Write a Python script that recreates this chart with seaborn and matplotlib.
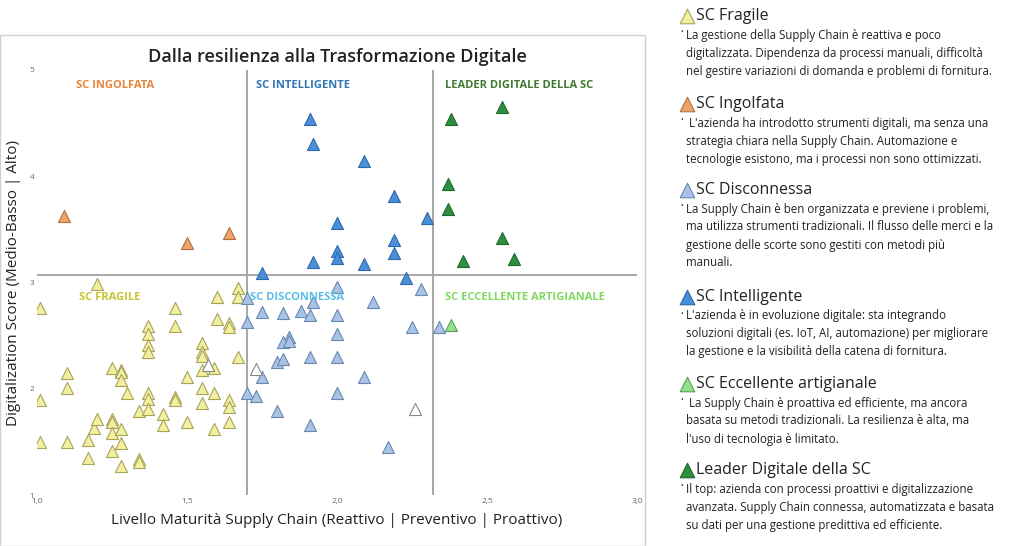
import matplotlib
matplotlib.use("Agg")
import matplotlib.pyplot as plt
import seaborn as sns
import pandas as pd
from matplotlib.patches import Rectangle

categories = ["SC Fragile", "SC Ingolfata", "SC Disconnessa", "SC Intelligente",
              "SC Eccellente artigianale", "Leader Digitale della SC", "Non classificato"]

fragile_x = [1.01, 1.20, 1.10, 1.10, 1.01, 1.01, 1.10, 1.17, 1.17, 1.19, 1.20, 1.25, 1.25, 1.25, 1.25, 1.25,
             1.28, 1.28, 1.28, 1.28, 1.28, 1.28, 1.30, 1.34, 1.34, 1.34, 1.37, 1.37, 1.37, 1.37, 1.37, 1.37,
             1.37, 1.42, 1.42, 1.46, 1.46, 1.46, 1.46, 1.50, 1.50, 1.55, 1.55, 1.55, 1.55, 1.55, 1.55, 1.59,
             1.59, 1.59, 1.60, 1.60, 1.64, 1.64, 1.64, 1.64, 1.64, 1.67, 1.67, 1.67]
fragile_y = [2.76, 2.99, 2.15, 2.01, 1.89, 1.50, 1.50, 1.52, 1.35, 1.63, 1.72, 2.20, 1.72, 1.69, 1.58, 1.41,
             2.18, 2.16, 2.08, 1.62, 1.49, 1.27, 1.96, 1.79, 1.34, 1.31, 2.59, 2.52, 2.41, 2.35, 1.96, 1.90,
             1.81, 1.76, 1.66, 2.76, 2.59, 1.92, 1.89, 2.11, 1.69, 2.43, 2.35, 2.31, 2.18, 2.01, 1.87, 2.20,
             1.96, 1.62, 2.86, 2.66, 2.62, 2.58, 1.89, 1.83, 1.69, 2.95, 2.86, 2.30]
ingolfata_x = [1.09, 1.50, 1.64]
ingolfata_y = [3.63, 3.37, 3.47]
disconnessa_x = [2.00, 1.70, 1.92, 2.12, 2.28, 1.75, 1.82, 1.88, 1.91, 2.00, 1.70, 2.00, 2.25, 2.34, 1.84,
                 1.82, 1.84, 1.91, 2.00, 1.80, 1.82, 1.75, 2.09, 1.70, 1.73, 2.00, 1.80, 1.91, 2.17]
disconnessa_y = [2.96, 2.85, 2.82, 2.82, 2.94, 2.72, 2.71, 2.73, 2.69, 2.69, 2.63, 2.52, 2.58, 2.58, 2.49,
                 2.44, 2.45, 2.30, 2.30, 2.25, 2.28, 2.11, 2.11, 1.96, 1.93, 1.96, 1.79, 1.66, 1.45]
intelligente_x = [1.91, 1.92, 2.09, 2.19, 2.00, 2.30, 2.19, 2.19, 2.00, 2.00, 1.92, 2.09, 1.75, 2.23]
intelligente_y = [4.54, 4.30, 4.14, 3.81, 3.56, 3.61, 3.40, 3.28, 3.30, 3.23, 3.19, 3.17, 3.09, 3.04]
eccellente_x = [2.38]
eccellente_y = [2.60]
leader_x = [2.55, 2.38, 2.37, 2.37, 2.55, 2.42, 2.59]
leader_y = [4.65, 4.54, 3.93, 3.69, 3.42, 3.20, 3.22]
altro_x = [1.57, 1.73, 2.26]
altro_y = [2.22, 2.19, 1.81]

xs = [fragile_x, ingolfata_x, disconnessa_x, intelligente_x, eccellente_x, leader_x, altro_x]
ys = [fragile_y, ingolfata_y, disconnessa_y, intelligente_y, eccellente_y, leader_y, altro_y]
rows = []
for c, xx, yy in zip(categories, xs, ys):
    for a, b in zip(xx, yy):
        rows.append({"x": a, "y": b, "cat": c})
df = pd.DataFrame(rows)

fills = {"SC Fragile": "#f3efa0", "SC Ingolfata": "#eea46a", "SC Disconnessa": "#a9c3e6",
         "SC Intelligente": "#4a8fdc", "SC Eccellente artigianale": "#93e08c",
         "Leader Digitale della SC": "#2e8f40", "Non classificato": "#ffffff"}
edges = {"SC Fragile": "#a8a45a", "SC Ingolfata": "#b07040", "SC Disconnessa": "#6a88b0",
         "SC Intelligente": "#2f6aa8", "SC Eccellente artigianale": "#5aa058",
         "Leader Digitale della SC": "#1f6a2c", "Non classificato": "#888888"}

sns.set_theme(style="white")
plt.rcParams['font.family'] = ['Open Sans', 'DejaVu Sans']
fig = plt.figure(figsize=(10.24, 5.46), dpi=100)
fig.patches.append(Rectangle((0.0, 0.0), 645/1024, 1-35/546, transform=fig.transFigure,
                             facecolor="none", edgecolor="#d0d0d0", lw=1.0))
ax = fig.add_axes([37/1024, 1-495/546, 600/1024, 425/546])
for c in categories:
    sub = df[df["cat"] == c]
    sns.scatterplot(data=sub, x="x", y="y", marker="^", s=75, color=fills[c],
                    edgecolor=edges[c], linewidth=0.8, ax=ax, legend=False, zorder=3)
ax.set_xlim(1.0, 3.0)
ax.set_ylim(1.0, 5.0)
ax.axvline(1.7, color="#a0a0a0", lw=1.3, zorder=1)
ax.axvline(2.32, color="#a0a0a0", lw=1.3, zorder=1)
ax.axhline(3.07, color="#a0a0a0", lw=1.3, zorder=1)
for s in ax.spines.values():
    s.set_visible(False)
ax.set_xticks([1.0, 1.5, 2.0, 2.5, 3.0])
ax.set_xticklabels(["1,0", "1,5", "2,0", "2,5", "3,0"])
ax.set_yticks([1, 2, 3, 4, 5])
ax.tick_params(labelsize=6, colors="#666666", length=0, pad=2)
ax.set_xlabel("Livello Maturità Supply Chain (Reattivo | Preventivo | Proattivo)", fontsize=11,
              color="#222222", labelpad=6, fontweight="medium")
ax.set_ylabel("Digitalization Score (Medio-Basso | Alto)", fontsize=11, color="#222222",
              labelpad=6, fontweight="medium")
ax.set_title("Dalla resilienza alla Trasformazione Digitale", fontsize=13, color="#222222",
             pad=6, fontweight="semibold")

qlabels = [(1.13, 4.85, "SC INGOLFATA", "#e8843a"), (1.73, 4.85, "SC INTELLIGENTE", "#2e75b6"),
           (2.36, 4.85, "LEADER DIGITALE DELLA SC", "#3f7a30"), (1.14, 2.86, "SC FRAGILE", "#c8c430"),
           (1.71, 2.86, "SC DISCONNESSA", "#5bbde8"), (2.36, 2.86, "SC ECCELLENTE ARTIGIANALE", "#80d860")]
for x, y, t, col in qlabels:
    ax.text(x, y, t, fontsize=8, fontweight="bold", color=col, va="center", ha="left")

legend_items = [
    ("SC Fragile", 16, ["La gestione della Supply Chain è reattiva e poco",
                        "digitalizzata. Dipendenza da processi manuali, difficoltà",
                        "nel gestire variazioni di domanda e problemi di fornitura."]),
    ("SC Ingolfata", 104, [" L'azienda ha introdotto strumenti digitali, ma senza una",
                           "strategia chiara nella Supply Chain. Automazione e",
                           "tecnologie esistono, ma i processi non sono ottimizzati."]),
    ("SC Disconnessa", 190, ["La Supply Chain è ben organizzata e previene i problemi,",
                             "ma utilizza strumenti tradizionali. Il flusso delle merci e la",
                             "gestione delle scorte sono gestiti con metodi più",
                             "manuali."]),
    ("SC Intelligente", 297, ["L'azienda è in evoluzione digitale: sta integrando",
                              "soluzioni digitali (es. IoT, AI, automazione) per migliorare",
                              "la gestione e la visibilità della catena di fornitura."]),
    ("SC Eccellente artigianale", 384, [" La Supply Chain è proattiva ed efficiente, ma ancora",
                                        "basata su metodi tradizionali. La resilienza è alta, ma",
                                        "l'uso di tecnologia è limitato."]),
    ("Leader Digitale della SC", 470, ["Il top: azienda con processi proattivi e digitalizzazione",
                                       "avanzata. Supply Chain connessa, automatizzata e basata",
                                       "su dati per una gestione predittiva ed efficiente."]),
]
lax = fig.add_axes([0, 0, 1, 1], facecolor="none")
lax.set_xlim(0, 1024)
lax.set_ylim(546, 0)
lax.axis("off")
for name, ytop, lines in legend_items:
    lax.scatter([687], [ytop], marker="^", s=110, color=fills[name], edgecolor=edges[name], linewidth=0.8)
    lax.text(696, ytop, name, fontsize=11.5, color="#222222", va="center", ha="left")
    for i, ln in enumerate(lines):
        yy = ytop + 19 + i * 18
        if i == 0:
            lax.text(680, yy - 2, "•", fontsize=5, color="#222222", va="center")
        lax.text(686, yy, ln, fontsize=8.3, color="#222222", va="center", ha="left")

fig.savefig("out.png", dpi=100)
